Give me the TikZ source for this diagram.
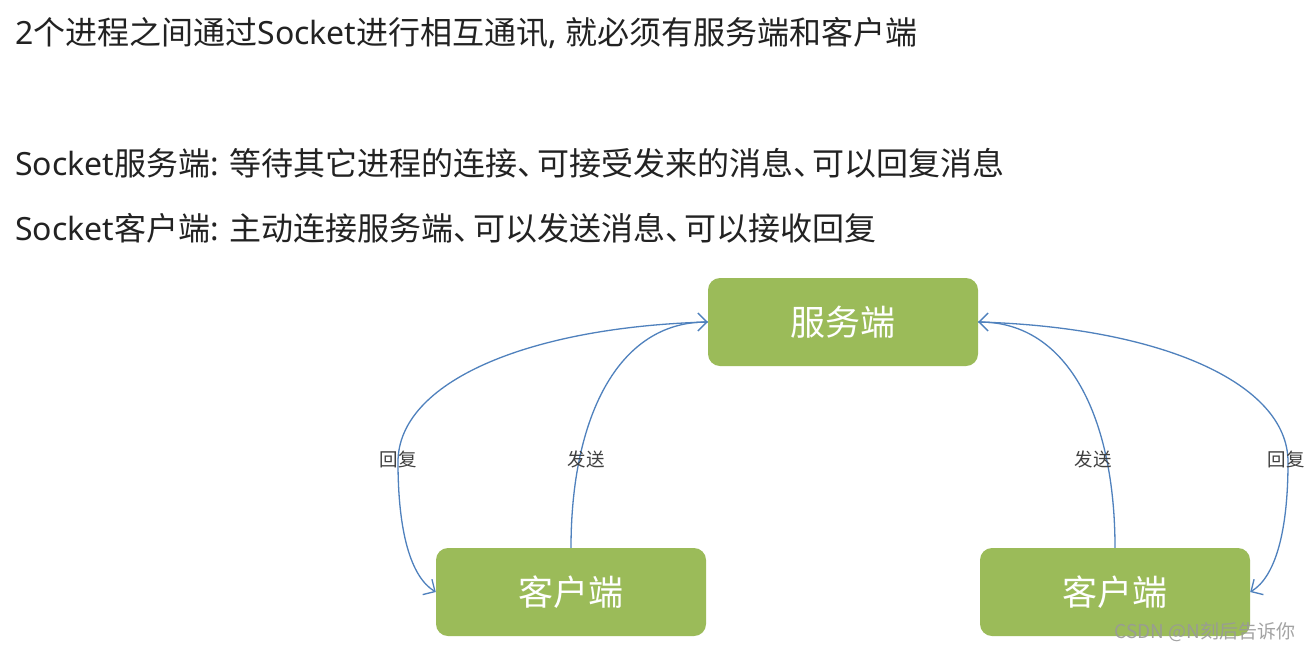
\documentclass[tikz,border=0pt]{standalone}
\usepackage{fontspec}
\setmainfont{Noto Sans CJK SC}
\newfontfamily\latn{Noto Sans}
\usetikzlibrary{arrows.meta}
\definecolor{boxgreen}{HTML}{9BBB59}
\definecolor{arrowblue}{HTML}{4F81BD}
\definecolor{txtdark}{HTML}{222222}
\definecolor{lbl}{HTML}{404040}
\newcommand{\dun}{\makebox[0.6em][l]{、}}
\tikzset{
  headline/.style={anchor=west, inner sep=0pt, text=txtdark, font=\fontsize{32}{38}\selectfont},
  greenbox/.style={fill=boxgreen, rounded corners=12pt, minimum width=270pt, minimum height=88pt, text=white, font=\fontsize{35}{40}\selectfont},
  conn/.style={draw=arrowblue, line width=1.3pt, -{Straight Barb[length=9pt,width=18pt,line width=1.3pt]}},
  edgelabel/.style={text=lbl, inner sep=0pt, font=\fontsize{18.5}{22}\selectfont}
}
\begin{document}
\begin{tikzpicture}[x=1pt,y=-1pt]
\useasboundingbox[fill=white] (0,0) rectangle (1313,651);
\node[headline] (t1) at (15,33) {{\latn 2}个进程之间通过{\latn Socket}进行相互通讯{\latn , }就必须有服务端和客户端};
\node[headline] (t2) at (15,163) {{\latn Socket}服务端{\latn : }等待其它进程的连接\dun 可接受发来的消息\dun 可以回复消息};
\node[headline] (t3) at (15,228) {{\latn Socket}客户端{\latn : }主动连接服务端\dun 可以发送消息\dun 可以接收回复};

\node[greenbox] (srv) at (843,322) {服务端};
\node[greenbox] (cl) at (571,592) {客户端};
\node[greenbox] (cr) at (1115,592) {客户端};

\coordinate (lk) at (398,462);
\coordinate (rk) at (1288,462);

\draw[conn] (srv.west) .. controls +(-180,5) and +(0,-80) .. (lk) .. controls +(0,70) and +(-25,-15) .. (cl.west);
\draw[conn] (cl.north) .. controls +(0,-130) and +(-90,0) .. (srv.west);
\draw[conn] (cr.north) .. controls +(0,-130) and +(90,0) .. (srv.east);
\draw[conn] (srv.east) .. controls +(180,5) and +(0,-80) .. (rk) .. controls +(0,70) and +(25,-15) .. (cr.east);

\node[edgelabel] (l1) at (398,459) {回复};
\node[edgelabel] (l2) at (586,459) {发送};
\node[edgelabel] (l3) at (1093,459) {发送};
\node[edgelabel] (l4) at (1286,459) {回复};

\node[text=gray!80, opacity=0.9, inner sep=0pt, font=\fontsize{19}{22}\selectfont] (wm) at (1205,632) {CSDN @N刻后告诉你};
\end{tikzpicture}
\end{document}
